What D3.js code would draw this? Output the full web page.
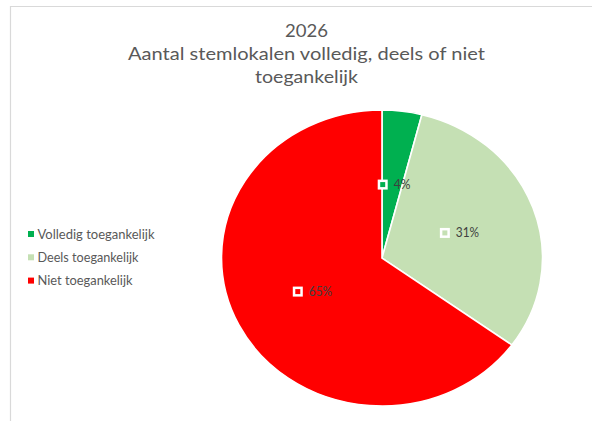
<!DOCTYPE html>
<html><head><meta charset="utf-8">
<script src="https://cdn.jsdelivr.net/npm/d3@7"></script>
<style>html,body{margin:0;padding:0;background:#fff;overflow:hidden}</style>
</head><body>
<script>
const titleLines = ["2026", "Aantal stemlokalen volledig, deels of niet", "toegankelijk"];
const categories = ["Volledig toegankelijk", "Deels toegankelijk", "Niet toegankelijk"];
const values = [4, 31, 65];
const labels = ["4%", "31%", "65%"];
const colors = ["#00b050", "#c5e0b4", "#ff0000"];

const W = 592, H = 421;
const svg = d3.select("body").append("svg").attr("width", W).attr("height", H);
const font = "Lato, 'Open Sans', sans-serif";

// frame
svg.append("path").attr("d", `M10.5,${H} L10.5,6.5 L${W},6.5`)
  .attr("fill", "none").attr("stroke", "#d9d9d9").attr("stroke-width", 1.2);

// title
const titleW = [43, 357, 103];
const titleY = [37, 60, 83.3];
svg.append("g").selectAll("text").data(titleLines).join("text")
  .attr("x", 306.5).attr("y", (d, i) => titleY[i])
  .attr("text-anchor", "middle")
  .attr("font-family", font).attr("font-size", 17.5).attr("fill", "#595959")
  .attr("textLength", (d, i) => titleW[i]).attr("lengthAdjust", "spacingAndGlyphs")
  .text(d => d);

// pie
const cx = 382, cy = 258, R = 148, sx = 1.0845;
const pie = d3.pie().sort(null).value(d => d);
const arcs = pie(values);
const arc = d3.arc().innerRadius(0).outerRadius(R);
const g = svg.append("g").attr("transform", `translate(${cx},${cy}) scale(${sx},1)`);
g.selectAll("path").data(arcs).join("path")
  .attr("d", arc).attr("fill", (d, i) => colors[i])
  .attr("stroke", "#fff").attr("stroke-width", 1.5);

// data labels
const labelW = [16.7, 23.3, 23.4];
const lg = svg.append("g");
arcs.forEach((a, i) => {
  const c = arc.centroid(a);
  const px = cx + c[0] * sx, py = cy + c[1];
  const total = 10 + 6 + labelW[i];
  const left = px - total / 2 + 2;
  lg.append("rect").attr("x", left + 1.25).attr("y", py - 3.75)
    .attr("width", 7.5).attr("height", 7.5)
    .attr("fill", colors[i]).attr("stroke", "#fff").attr("stroke-width", 2.5);
  lg.append("text").attr("x", left + 16).attr("y", py + 4.5)
    .attr("font-family", font).attr("font-size", 12.5).attr("fill", "#404040")
    .attr("textLength", labelW[i]).attr("lengthAdjust", "spacingAndGlyphs")
    .text(labels[i]);
});

// legend
const legY = [234, 257.3, 280.6];
const legW = [117, 101, 95];
const leg = svg.append("g");
categories.forEach((c, i) => {
  leg.append("rect").attr("x", 28).attr("y", legY[i] - 3).attr("width", 6).attr("height", 6)
    .attr("fill", colors[i]);
  leg.append("text").attr("x", 37.5).attr("y", legY[i] + 4.6)
    .attr("font-family", font).attr("font-size", 12.5).attr("fill", "#595959")
    .attr("textLength", legW[i]).attr("lengthAdjust", "spacingAndGlyphs")
    .text(c);
});
</script>
</body></html>
